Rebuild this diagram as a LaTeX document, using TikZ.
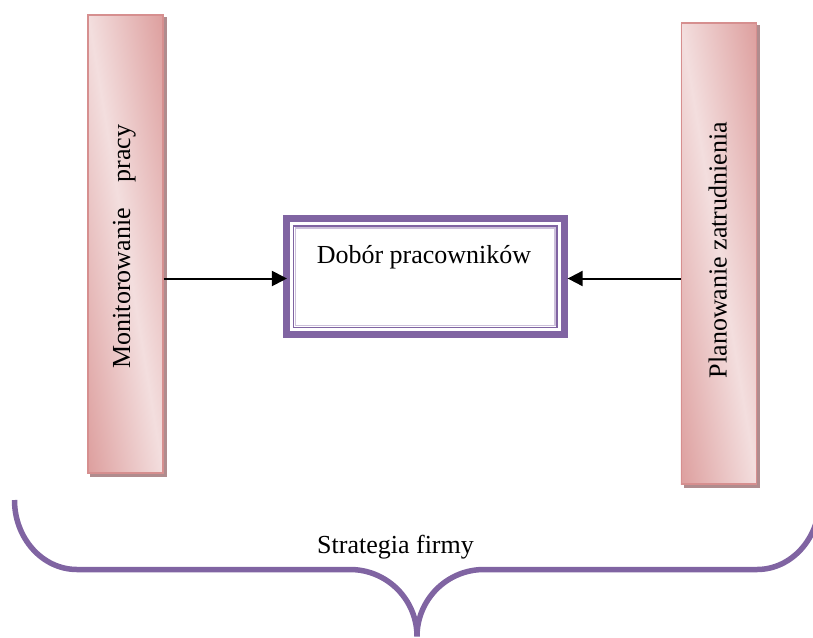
\documentclass[tikz,border=0pt]{standalone}
\usepackage{fontspec}
\setmainfont{Liberation Serif}
\usetikzlibrary{arrows.meta}
\definecolor{pkD}{RGB}{217,147,146}
\definecolor{pkL}{RGB}{243,222,222}
\definecolor{pkB}{RGB}{214,143,143}
\definecolor{shd}{RGB}{176,140,142}
\definecolor{vio}{RGB}{128,100,162}
\definecolor{lav}{RGB}{204,192,218}
\pgfdeclareverticalshading{barshade}{100bp}{color(0bp)=(pkD); color(8bp)=(pkD); color(50bp)=(pkL); color(92bp)=(pkD); color(100bp)=(pkD)}
\pgfdeclarelayer{background}
\pgfsetlayers{background,main}
\begin{document}
\begin{tikzpicture}[x=1pt,y=-1pt,
  bar/.style={draw=pkB, line width=1.3pt, minimum width=75pt, minimum height=458pt, inner sep=0pt},
  lbl/.style={font=\fontsize{26}{30}\selectfont, inner sep=0pt},
  vlbl/.style={lbl, rotate=90, anchor=base},
  mainbox/.style={draw=vio, line width=7pt, fill=white, minimum width=277.7pt, minimum height=116.3pt, inner sep=0pt},
  arr/.style={line width=2pt, -{Triangle[length=15pt,width=15pt]}},
  brace/.style={draw=vio, line width=5.5pt},
  barshadow/.style={fill=shd}
]
\useasboundingbox (0,0) rectangle (813,637);
\clip (0,0) rectangle (813,637);

% side bars
\node[bar] (L) at (125.5,244) {};
\node[bar, minimum height=461pt] (R) at (718.8,253.5) {};
\begin{pgfonlayer}{background}
  \fill[barshadow] ([shift={(3,3)}]L.north west) rectangle ([shift={(3,3)}]L.south east);
  \fill[barshadow] ([shift={(3,3)}]R.north west) rectangle ([shift={(3,3)}]R.south east);
  \begin{scope}[transform canvas={shift={(L.center)}, xscale=0.1630}]
    \shade[shading=barshade, shading angle=-45] (-230,-229) rectangle (230,229);
  \end{scope}
  \begin{scope}[transform canvas={shift={(R.center)}, xscale=0.1650}]
    \shade[shading=barshade, shading angle=-45] (-230,-230.5) rectangle (230,230.5);
  \end{scope}
\end{pgfonlayer}
\node[vlbl] (Lt) at (130,246.5) {Monitorowanie\hspace{1em}pracy};
\node[vlbl] (Rt) at (726.5,250) {Planowanie zatrudnienia};

% central box
\node[mainbox] (B) at (425.3,276.7) {};
\draw[vio, line width=1.8pt] ([shift={(10.5,10.8)}]B.north west) rectangle ([shift={(-10.5,-10.8)}]B.south east);
\draw[lav, line width=1.6pt] ([shift={(12.5,12.8)}]B.north west) rectangle ([shift={(-12.5,-12.8)}]B.south east);
\node[lbl, anchor=base] (Bt) at (424,263.3) {Dobór pracowników};

% connectors
\coordinate (ya) at (0,278.5);
\draw[arr, shorten >=-4pt] (L.east |- ya) -- (B.west |- ya);
\draw[arr] (R.west |- ya) -- (B.east |- ya);

% brace
\draw[brace] (14.5,500) arc[start angle=180, end angle=90, x radius=62.5, y radius=69.5]
  -- (350,569.5) arc[start angle=270, end angle=360, radius=67]
  arc[start angle=180, end angle=270, radius=67]
  -- (757,569.5) arc[start angle=90, end angle=0, x radius=62.5, y radius=69.5];
\node[lbl, anchor=base] (S) at (395.5,553.3) {Strategia firmy};
\end{tikzpicture}
\end{document}
